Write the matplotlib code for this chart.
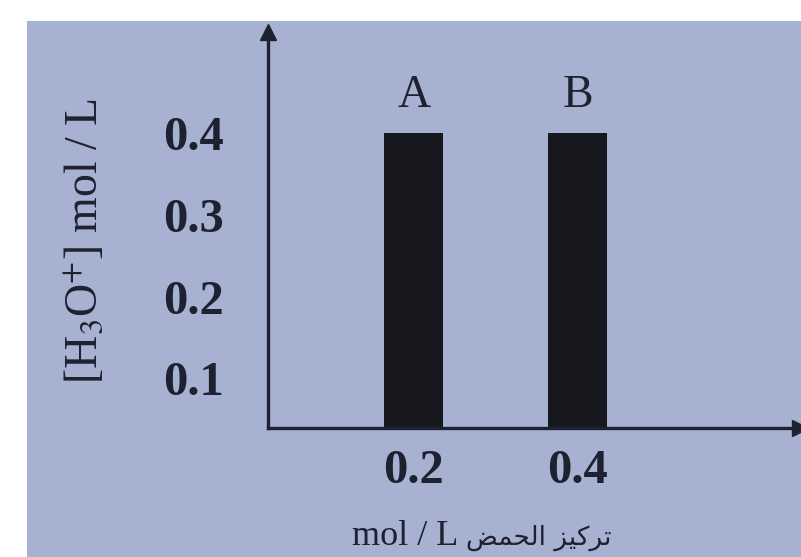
import matplotlib
matplotlib.use("Agg")
import matplotlib.pyplot as plt
from matplotlib.patches import Rectangle

# Data
concentrations = [0.2, 0.4]
h3o_values = [0.4, 0.4]
bar_labels = ["A", "B"]
y_ticks = [0.1, 0.2, 0.3, 0.4]
x_tick_labels = ["0.2", "0.4"]
y_label = r"[H$_3$O$^{+}$] mol / L"
x_label_unit = "mol / L"
# "تركيز الحمض" written with Arabic presentation forms in visual order
x_label_ar = "\uFEBE\uFEE4\uFEA4\uFEDF\uFE8D \uFEB0\uFEF4\uFEDB\uFEAE\uFE97"

plt.rcParams["mathtext.fontset"] = "stix"

W, H = 801, 557
fig = plt.figure(figsize=(W / 100, H / 100), dpi=100)
fig.patch.set_facecolor("white")
fig.patches.append(Rectangle((27 / W, 0), 1, (H - 21) / H, transform=fig.transFigure,
                             facecolor="#a7b1d2", edgecolor="none", zorder=-5))

ax = fig.add_axes([268 / W, (H - 428) / H, (800 - 268) / W, (428 - 32) / H])
ax.set_zorder(3)
ax.set_facecolor("none")

ink = "#1d2130"
serif = ["Liberation Serif", "DejaVu Serif"]

ax.bar(concentrations, h3o_values, width=0.072, color="#16181e", zorder=2)
for x, h, lab in zip(concentrations, h3o_values, bar_labels):
    ax.annotate(lab, (x, h), xytext=(0, 19), textcoords="offset points",
                ha="center", va="baseline", fontsize=33, family=serif, color=ink)

ax.set_xlim(0.022, 0.671)
ax.set_ylim(0.039, 0.524)

ax.set_xticks(concentrations)
ax.set_xticklabels(x_tick_labels)
ax.set_yticks(y_ticks)
ax.set_yticklabels([f"{v:.1f}" for v in y_ticks])
ax.tick_params(axis="both", length=0, labelsize=35, colors=ink)
ax.tick_params(axis="y", pad=32)
ax.tick_params(axis="x", pad=15)
for t in ax.get_xticklabels() + ax.get_yticklabels():
    t.set_fontfamily(serif)
    t.set_fontweight("bold")

for s in ["top", "right"]:
    ax.spines[s].set_visible(False)
for s in ["left", "bottom"]:
    ax.spines[s].set_color(ink)
    ax.spines[s].set_linewidth(2.4)

ax.plot(1, 0, ">", color=ink, markersize=11, transform=ax.transAxes, clip_on=False)
ax.plot(0, 1, "^", color=ink, markersize=11, transform=ax.transAxes, clip_on=False)

fig.text(86 / W, 1 - 241 / H, y_label, rotation=90, ha="center", va="center",
         fontsize=33, family=serif, color=ink, zorder=3)
fig.text(458 / W, 12 / H, x_label_unit, ha="right", va="baseline",
         fontsize=26, family=serif, color=ink, zorder=3)
fig.text(466 / W, 12 / H, x_label_ar, ha="left", va="baseline",
         fontsize=19, family="DejaVu Sans", color=ink, zorder=3)

fig.savefig("out.png", dpi=100)
